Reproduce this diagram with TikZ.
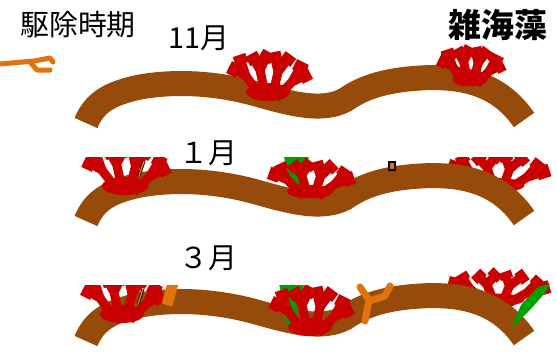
\documentclass[tikz,border=0pt]{standalone}
\usepackage{fontspec}
\newfontfamily\jpfont{Noto Sans CJK JP}
\usetikzlibrary{positioning}

\definecolor{rockbrown}{RGB}{150,75,10}
\definecolor{weedred}{RGB}{200,0,0}
\definecolor{weedgreen}{RGB}{0,160,0}
\definecolor{algaeorange}{RGB}{225,115,15}

\begin{document}
\begin{tikzpicture}[x=1bp, y=-1bp,
    rock/.style={draw=rockbrown, line width=25bp, line cap=butt, line join=round},
    weedline/.style={draw=weedred, line width=9bp, line cap=butt, line join=miter},
    weedtip/.style={weedline, line width=13bp},
    greenleaf/.style={fill=weedgreen},
    algae/.style={draw=algaeorange, line width=6bp, line cap=round, line join=round},
    monthtext/.style={font=\jpfont\fontsize{29}{29}\selectfont, inner sep=0pt},
    pics/rockline/.style={code={
        \draw[rock] (86,123) .. controls (95,101) and (112,93) .. (140,87)
            .. controls (180,80) and (222,84) .. (260,95)
            .. controls (292,104) and (322,112) .. (345,100)
            .. controls (365,86) and (388,80) .. (420,78)
            .. controls (470,75) and (502,88) .. (524,120);
    }},
    pics/redweed/.style={code={
        \fill[weedred] (0,-6) ellipse (22 and 9);
        % branches
        \draw[weedline] (-6,0) -- (-22,-22) -- (-36,-30);
        \draw[weedline] (-22,-22) -- (-28,-40);
        \draw[weedline] (-2,0) -- (-8,-28) -- (-16,-42);
        \draw[weedline] (-8,-28) -- (0,-44);
        \draw[weedline] (4,0) -- (10,-26) -- (6,-44);
        \draw[weedline] (10,-26) -- (22,-42);
        \draw[weedline] (8,0) -- (24,-16) -- (40,-24);
        \draw[weedline] (24,-16) -- (34,-34);
        % blocky tips
        \draw[weedtip] (-29,-26) -- (-39,-31);
        \draw[weedtip] (-26,-34) -- (-29,-43);
        \draw[weedtip] (-12,-35) -- (-17,-44);
        \draw[weedtip] (-4,-37) -- (1,-46);
        \draw[weedtip] (8,-36) -- (6,-46);
        \draw[weedtip] (17,-35) -- (23,-43);
        \draw[weedtip] (32,-20) -- (42,-25);
        \draw[weedtip] (30,-26) -- (35,-36);
    }}
]
\useasboundingbox (0,0) rectangle (557,352);

% Titles
\node[monthtext] (kujo) at (78,25) {駆除時期};
\node[monthtext, font=\jpfont\bfseries\fontsize{33}{33}\selectfont] (zatsu) at (498,25) {雑海藻};

% November
\node[monthtext] (nov) at (199,38) {11月};
\draw[algae, line width=5bp] (0,64) -- (34,61) -- (50,58) -- (53,62);
\draw[algae, line width=5bp] (30,62) -- (37,70) -- (50,70);
\pic at (0,0) {rockline};
\pic at (268,98) {redweed};
\pic[scale=0.8] at (470,84) {redweed};

% January
\node[monthtext] (jan) at (208,153) {１月};
\begin{scope}
    \clip (0,157) rectangle (557,352);
    \pic[xscale=1.25, yscale=0.8] at (497,190) {redweed};
    \pic at (0,98) {rockline};
    \fill[greenleaf] (282,150) -- (310,150) -- (303,190) -- (293,190) -- cycle;
    \pic[xscale=1.05] at (125,192) {redweed};
    \pic[xscale=1.05, yscale=0.75] at (310,196) {redweed};
    \draw[black, line width=3bp] (144,161) -- (139,176);
    \draw[algaeorange, line width=1.5bp] (144,161) -- (139,176);
    \draw[black, fill=algaeorange, line width=1.2bp] (389,162) rectangle (395,170);
\end{scope}

% March
\node[monthtext] (mar) at (208,258) {３月};
\pic[xscale=1.25, yscale=0.7] at (497,304) {redweed};
\pic at (0,218) {rockline};
\fill[greenleaf] (550,284) -- (538,287) -- (521,305) -- (511,328) -- (529,311) -- (545,293) -- cycle;
\begin{scope}
    \clip (0,285) rectangle (557,352);
    \fill[greenleaf] (278,280) -- (305,280) -- (298,310) -- (293,326) -- (287,326) -- (283,300) -- cycle;
    \pic at (122,320) {redweed};
    \pic at (310,333) {redweed};
    \draw[algae, line width=11bp, line cap=butt] (167,305) -- (173,283);
    \draw[black, line width=3bp] (143,289) -- (138,304);
    \draw[algaeorange, line width=1.5bp] (143,289) -- (138,304);
\end{scope}
\draw[algae, line width=7bp] (365,321) -- (369,300) -- (360,287);
\draw[algae, line width=7bp] (369,301) -- (385,296) -- (390,286);

\end{tikzpicture}
\end{document}
